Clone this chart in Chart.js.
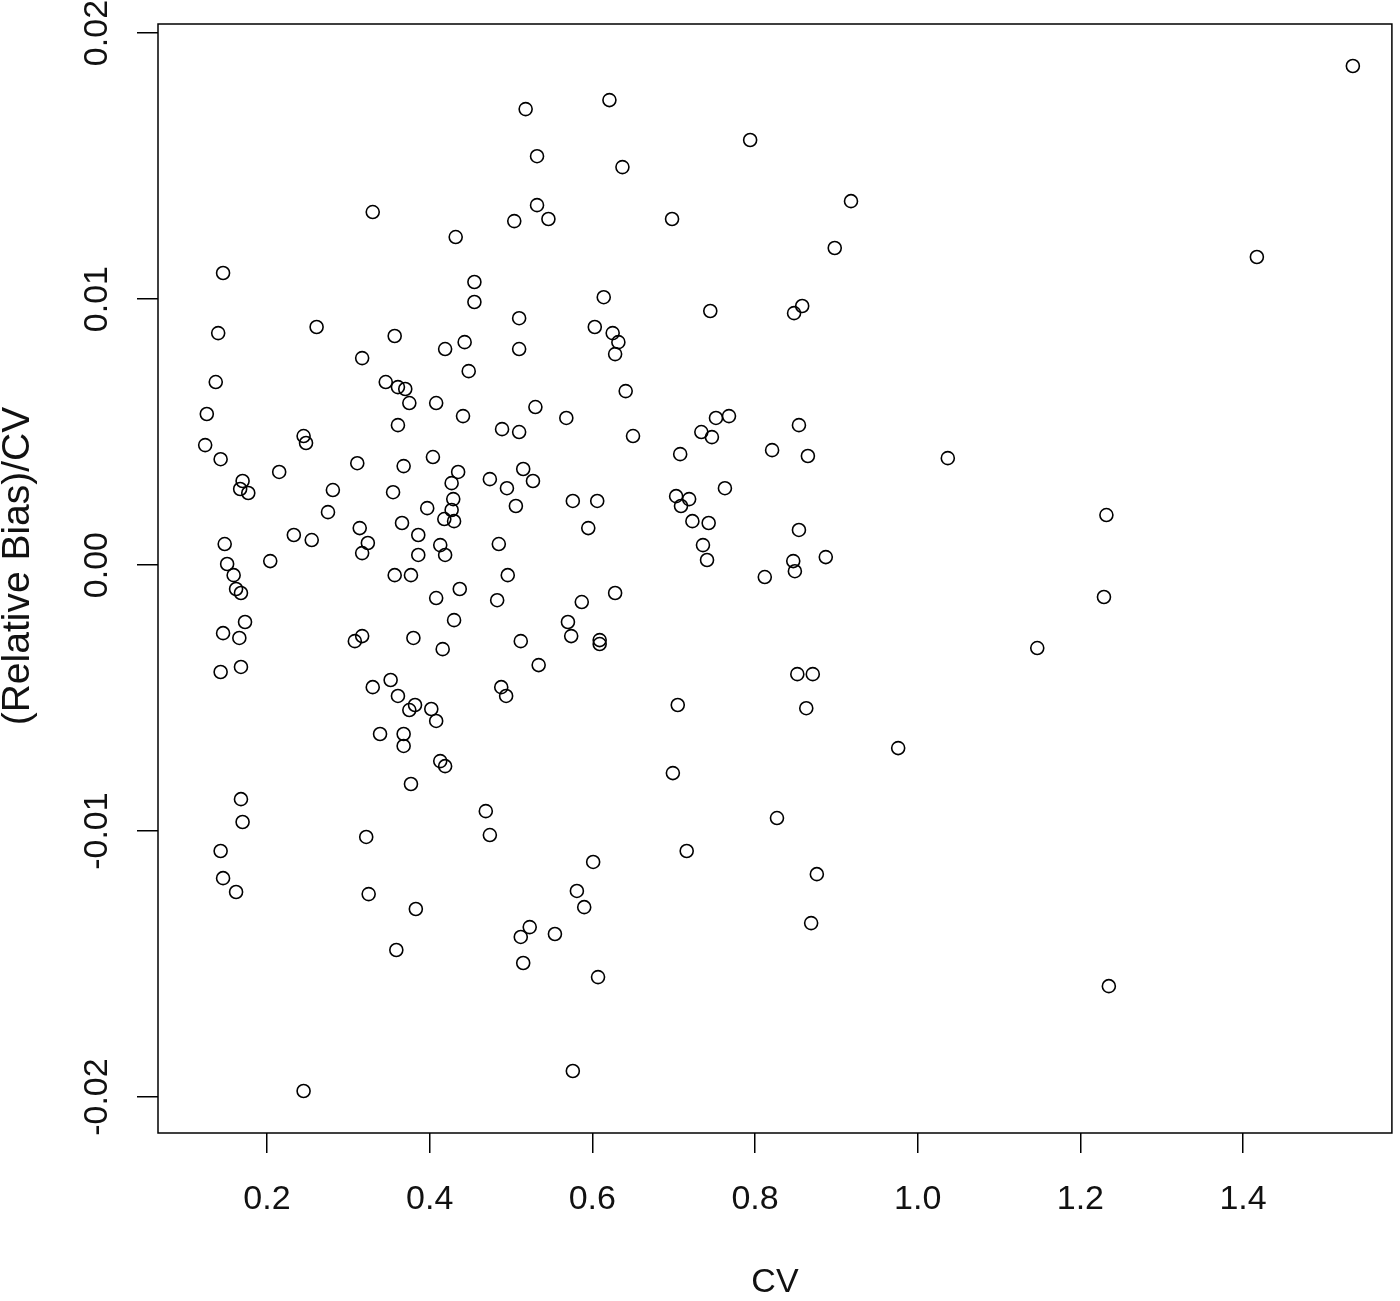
<!DOCTYPE html>
<html>
<head>
<meta charset="utf-8">
<script src="https://cdn.jsdelivr.net/npm/chart.js@4.4.1/dist/chart.umd.min.js"></script>
<style>
html,body{margin:0;padding:0;background:#fff;}
canvas{display:block;}
</style>
</head>
<body>
<canvas id="c" width="1400" height="1301"></canvas>
<script>
// ---- data ----
const cvValues = [
  0.146,0.140,0.137,0.126,0.124,0.143,0.170,0.167,0.177,0.148,0.151,0.159,0.162,0.168,0.146,0.166,0.173,0.143,0.168,0.168,0.170,0.143,0.146,0.162,
  0.215,0.245,0.248,0.204,0.233,0.255,0.261,0.245,0.275,0.281,0.308,0.317,0.311,0.317,0.330,0.322,0.325,0.330,0.314,0.324,0.317,
  0.357,0.346,0.361,0.370,0.375,0.361,0.368,0.355,0.366,0.386,0.386,0.357,0.377,0.380,0.352,0.361,0.382,0.375,0.339,0.368,0.368,0.377,0.383,0.359,
  0.432,0.455,0.455,0.419,0.443,0.448,0.408,0.441,0.404,0.435,0.427,0.429,0.427,0.418,0.430,0.397,0.413,0.419,0.437,0.408,0.430,0.416,0.402,0.408,0.413,0.419,
  0.489,0.474,0.495,0.506,0.485,0.496,0.483,0.488,0.494,0.469,0.474,0.510,0.510,0.530,0.510,0.515,0.527,0.512,0.534,0.518,0.532,0.504,0.532,0.546,0.523,0.512,0.554,0.515,
  0.621,0.637,0.614,0.603,0.625,0.632,0.628,0.641,0.568,0.650,0.576,0.606,0.595,0.570,0.574,0.609,0.609,0.587,0.628,0.601,0.581,0.590,0.607,0.576,
  0.698,0.745,0.752,0.768,0.734,0.747,0.708,0.763,0.703,0.719,0.709,0.723,0.743,0.736,0.741,0.705,0.699,0.716,
  0.794,0.918,0.898,0.858,0.848,0.854,0.821,0.865,0.854,0.847,0.849,0.812,0.887,0.852,0.871,0.863,0.827,0.876,0.869,0.976,
  1.037,1.535,1.417,1.232,1.229,1.147,1.235
];
const biasValues = [
  0.01098,0.00872,0.00688,0.00568,0.00451,0.00398,0.00316,0.00286,0.00271,0.00079,0.00004,-0.00038,-0.00090,-0.00105,-0.00256,-0.00274,-0.00214,-0.00402,-0.00383,-0.00880,-0.00966,-0.01075,-0.01177,-0.01229,
  0.00350,0.00485,0.00459,0.00015,0.00113,0.00094,0.00895,-0.01977,0.00199,0.00282,-0.00286,-0.00267,0.00383,0.00778,0.01327,-0.01022,-0.01237,-0.00459,0.00139,0.00083,0.00045,
  0.00861,0.00688,0.00669,0.00662,0.00609,0.00526,0.00372,0.00274,0.00158,0.00113,0.00038,-0.00038,-0.00038,-0.00274,-0.00432,-0.00492,-0.00526,-0.00545,-0.00635,-0.00635,-0.00680,-0.00823,-0.01293,-0.01447,
  0.01233,0.01064,0.00989,0.00812,0.00838,0.00729,0.00609,0.00560,0.00406,0.00350,0.00308,0.00248,0.00207,0.00173,0.00165,0.00214,0.00075,0.00038,-0.00090,-0.00124,-0.00207,-0.00316,-0.00541,-0.00586,-0.00737,-0.00756,
  0.00511,0.00323,0.00289,0.00222,0.00079,-0.00038,-0.00132,-0.00459,-0.00492,-0.00925,-0.01015,0.00928,0.00812,0.00594,0.00500,0.00361,0.00316,-0.00286,-0.00376,0.01714,0.01537,0.01293,0.01353,0.01301,-0.01361,-0.01398,-0.01387,-0.01496,
  0.01748,0.01496,0.01007,0.00895,0.00872,0.00838,0.00793,0.00654,0.00553,0.00485,0.00241,0.00241,0.00139,-0.00214,-0.00267,-0.00282,-0.00297,-0.00139,-0.00105,-0.01116,-0.01225,-0.01286,-0.01549,-0.01902,
  0.01301,0.00955,0.00553,0.00560,0.00500,0.00481,0.00417,0.00289,0.00259,0.00248,0.00222,0.00165,0.00158,0.00075,0.00019,-0.00526,-0.00782,-0.01075,
  0.01598,0.01368,0.01192,0.00974,0.00947,0.00526,0.00432,0.00410,0.00132,0.00015,-0.00023,-0.00045,0.00030,-0.00410,-0.00410,-0.00538,-0.00951,-0.01162,-0.01346,-0.00688,
  0.00402,0.01876,0.01158,0.00188,-0.00120,-0.00312,-0.01583
];
const xTickValues = [0.2, 0.4, 0.6, 0.8, 1.0, 1.2, 1.4];
const xTickLabels = ["0.2", "0.4", "0.6", "0.8", "1.0", "1.2", "1.4"];
const yTickValues = [-0.02, -0.01, 0.0, 0.01, 0.02];
const yTickLabels = ["-0.02", "-0.01", "0.00", "0.01", "0.02"];
const xAxisTitle = "CV";
const yAxisTitle = "(Relative Bias)/CV";
const xRange = [0.066, 1.583];
const yRange = [-0.02135, 0.02034];

const points = cvValues.map((x, i) => ({ x: x, y: biasValues[i] }));

const FONT = '34px "Liberation Sans", Arial, Helvetica, sans-serif';
const YTITLE_FONT = '39px "Liberation Sans", Arial, Helvetica, sans-serif';
const TEXT_COLOR = '#111';

const rStylePlugin = {
  id: 'rStyle',
  afterDraw(chart) {
    const ctx = chart.ctx;
    const a = chart.chartArea;
    const xs = chart.scales.x;
    const ys = chart.scales.y;
    ctx.save();
    // box
    ctx.strokeStyle = '#000';
    ctx.lineWidth = 1.5;
    ctx.strokeRect(a.left, a.top, a.right - a.left, a.bottom - a.top);
    // x tick labels
    ctx.fillStyle = TEXT_COLOR;
    ctx.font = FONT;
    ctx.textAlign = 'center';
    ctx.textBaseline = 'middle';
    xTickValues.forEach((v, i) => {
      ctx.fillText(xTickLabels[i], xs.getPixelForValue(v), a.bottom + 67);
    });
    // x title
    ctx.fillText(xAxisTitle, (a.left + a.right) / 2, a.bottom + 150);
    // y tick labels (rotated, R style)
    yTickValues.forEach((v, i) => {
      ctx.save();
      ctx.translate(a.left - 60, ys.getPixelForValue(v));
      ctx.rotate(-Math.PI / 2);
      ctx.fillText(yTickLabels[i], 0, 0);
      ctx.restore();
    });
    // y title
    ctx.save();
    ctx.font = YTITLE_FONT;
    ctx.translate(a.left - 140, 566);
    ctx.rotate(-Math.PI / 2);
    ctx.fillText(yAxisTitle, 0, 0);
    ctx.restore();
    ctx.restore();
  }
};

new Chart(document.getElementById('c'), {
  type: 'scatter',
  data: {
    datasets: [{
      data: points,
      pointStyle: 'circle',
      pointRadius: 6.5,
      pointHoverRadius: 6.5,
      pointBorderWidth: 1.6,
      pointBorderColor: '#000',
      pointBackgroundColor: 'rgba(0,0,0,0)',
      showLine: false
    }]
  },
  options: {
    responsive: false,
    devicePixelRatio: 1,
    animation: false,
    events: [],
    layout: { padding: { left: 0, top: 24, right: 8, bottom: 0 } },
    plugins: { legend: { display: false }, tooltip: { enabled: false } },
    scales: {
      x: {
        type: 'linear',
        min: xRange[0],
        max: xRange[1],
        afterBuildTicks: (s) => { s.ticks = xTickValues.map(v => ({ value: v })); },
        afterFit: (s) => { s.height = 168; },
        ticks: { display: false },
        grid: { display: true, drawOnChartArea: false, drawTicks: true, tickLength: 20, color: '#000', lineWidth: 1.5 },
        border: { display: false }
      },
      y: {
        type: 'linear',
        min: yRange[0],
        max: yRange[1],
        afterBuildTicks: (s) => { s.ticks = yTickValues.map(v => ({ value: v })); },
        afterFit: (s) => { s.width = 158; },
        ticks: { display: false },
        grid: { display: true, drawOnChartArea: false, drawTicks: true, tickLength: 21, color: '#000', lineWidth: 1.5 },
        border: { display: false }
      }
    }
  },
  plugins: [rStylePlugin]
});
</script>
</body>
</html>
